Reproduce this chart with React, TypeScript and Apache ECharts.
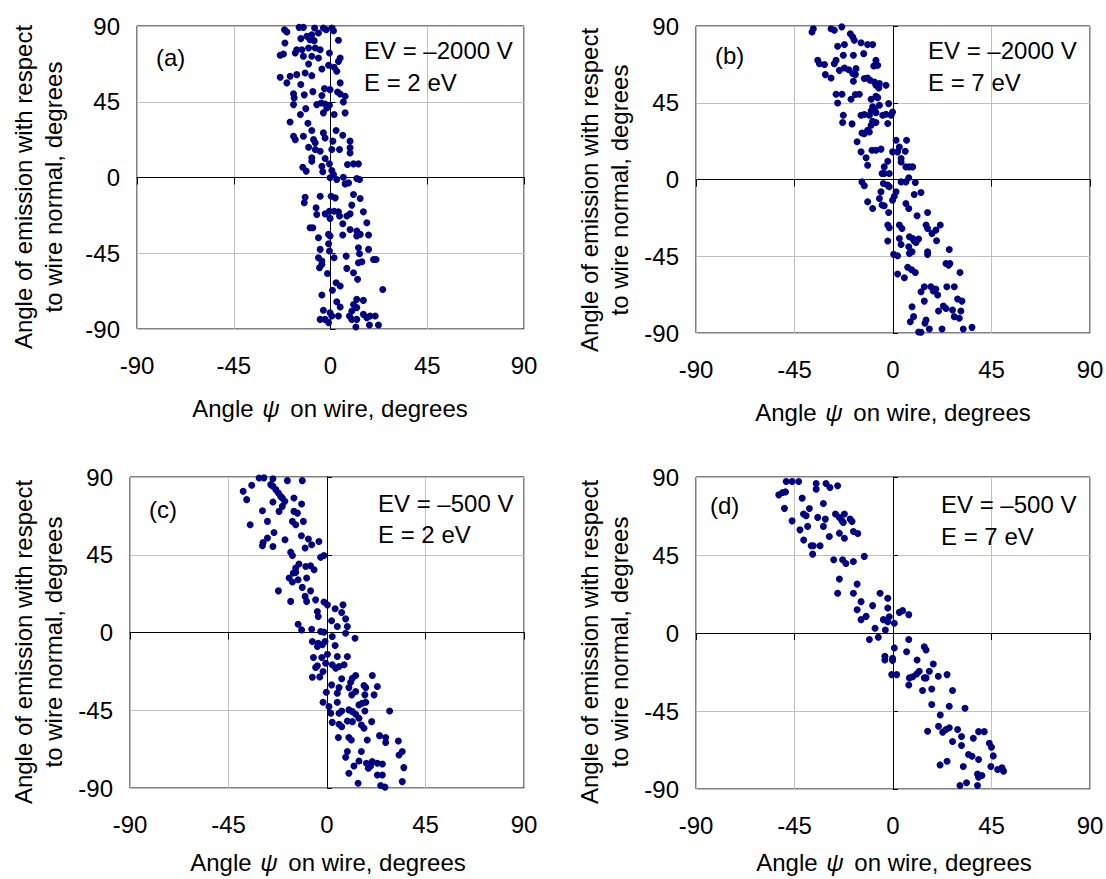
import React, { useEffect, useRef } from "react";
import * as echarts from "echarts";

// ---------- data ----------
const tickMin = -90;
const tickMax = 90;
const tickStep = 45;

const panelLabels = ["(a)", "(b)", "(c)", "(d)"];
const fieldLines = ["EV = \u20132000 V", "EV = \u20132000 V", "EV = \u2013500 V", "EV = \u2013500 V"];
const energyLines = ["E = 2 eV", "E = 7 eV", "E = 2 eV", "E = 7 eV"];
const yTitleLines = ["Angle of emission with respect", "to wire normal, degrees"];
const xTitleParts = ["Angle ", "\u03C8", " on wire, degrees"];

// [psi on wire, emission angle] in degrees
const pointsA: [number, number][] = [
  [-21.4, 87.8], [-20.3, 86.4], [-14.6, 89.2], [-12.6, 89.2], [-7.4, 88.8], [-3.3, 88.8], [-2.0, 87.8], [0.6, 88.8],
  [1.4, 87.2], [-5.6, 85.8], [-8.7, 84.8], [-13.8, 82.5], [-11.0, 83.9], [-9.5, 81.9], [-7.6, 81.3], [3.7, 81.5],
  [-21.2, 79.9], [-15.7, 75.9], [-16.4, 74.0], [-13.3, 75.9], [-10.2, 76.9], [-7.1, 76.9], [-4.8, 75.9], [-0.5, 74.0],
  [-23.4, 72.6], [-21.9, 73.4], [-12.6, 72.0], [-8.7, 72.0], [-5.6, 71.0], [4.5, 71.0], [3.7, 69.0], [-10.2, 67.4],
  [-0.9, 66.7], [-4.0, 64.5], [1.7, 65.5], [2.9, 63.1], [-23.4, 59.5], [-20.3, 56.2], [-18.8, 60.1], [-15.7, 61.1],
  [-13.8, 55.2], [-11.8, 62.1], [-8.7, 60.5], [4.5, 56.2], [-17.2, 49.8], [-16.9, 47.3], [-17.2, 43.3], [-12.2, 49.1],
  [-8.2, 51.0], [-4.0, 48.7], [-2.8, 52.8], [-0.2, 52.2], [3.3, 50.8], [4.5, 49.6], [6.8, 48.3], [6.0, 44.9],
  [-6.4, 43.3], [-4.3, 44.3], [-2.5, 43.7], [-0.5, 42.9], [-1.7, 41.3], [-11.5, 40.9], [-14.0, 37.4], [-3.3, 38.4],
  [1.7, 37.4], [6.8, 38.4], [-18.8, 33.0], [-10.5, 32.2], [-8.7, 27.9], [-3.3, 26.5], [2.6, 27.9], [5.7, 25.1],
  [9.1, 21.6], [-17.2, 24.5], [-16.4, 22.5], [-12.6, 24.5], [-7.9, 22.5], [-7.1, 20.6], [-2.5, 23.5], [1.1, 21.6],
  [-10.2, 18.0], [-7.1, 16.6], [-4.8, 15.6], [0.6, 16.6], [4.2, 16.6], [9.1, 17.6], [9.1, 14.6], [-8.7, 11.7],
  [-8.7, 9.7], [-2.5, 11.3], [-0.5, 8.1], [7.9, 7.7], [10.7, 8.1], [13.0, 8.1], [-12.9, 6.1], [-11.3, 3.8],
  [-4.0, 6.7], [-3.6, 3.4], [0.6, 4.2], [1.4, 1.8], [-0.2, -0.2], [2.9, -1.2], [6.0, 0.2], [6.8, -3.8],
  [8.4, -3.2], [12.2, -0.6], [13.5, -1.2], [-11.8, -11.7], [-12.2, -15.0], [-4.8, -11.1], [0.3, -11.1], [2.2, -12.1],
  [10.7, -10.1], [13.8, -12.5], [9.9, -16.4], [-6.7, -18.0], [-6.4, -22.0], [-2.5, -21.6], [-0.5, -20.0], [1.7, -20.0],
  [3.7, -20.4], [4.2, -22.9], [-0.2, -24.3], [7.6, -22.9], [9.1, -21.6], [15.3, -20.4], [16.9, -26.9], [5.7, -27.5],
  [-9.5, -29.9], [-8.2, -29.9], [9.1, -30.9], [12.2, -31.8], [-0.9, -33.8], [-0.2, -34.8], [-5.6, -35.8], [5.7, -34.2],
  [12.2, -34.8], [13.8, -33.8], [17.7, -34.2], [-0.9, -39.4], [-4.8, -42.7], [-0.5, -43.7], [1.7, -47.7], [-5.6, -47.7],
  [-4.0, -49.6], [-4.0, -51.6], [-5.1, -53.6], [7.3, -46.7], [13.0, -41.7], [13.5, -45.3], [17.7, -42.7], [13.0, -50.6],
  [14.6, -50.0], [20.0, -48.7], [21.2, -48.7], [7.6, -54.0], [10.7, -56.6], [-1.4, -57.0], [12.6, -60.5], [2.6, -62.5],
  [4.5, -64.5], [0.9, -67.0], [24.3, -66.5], [-4.0, -69.8], [2.9, -73.8], [4.5, -76.9], [10.7, -75.4], [12.2, -72.4],
  [15.3, -73.0], [12.2, -77.3], [9.9, -79.3], [-3.3, -78.9], [-0.2, -80.3], [0.6, -82.3], [-4.8, -84.3], [-2.5, -84.3],
  [-0.9, -86.2], [3.7, -82.3], [8.8, -82.3], [9.9, -84.3], [12.2, -84.3], [15.3, -81.3], [16.9, -83.3], [18.4, -82.3],
  [20.8, -82.3], [18.1, -87.6], [22.3, -87.6], [11.8, -88.8],
];

const pointsB: [number, number][] = [
  [-37.0, 86.5], [-36.4, 88.4], [-28.3, 88.4], [-26.8, 87.5], [-23.4, 89.5], [-19.5, 85.5], [-18.4, 83.6], [-17.7, 81.6],
  [-14.6, 80.2], [-11.6, 79.1], [-9.3, 79.1], [-22.2, 79.1], [-25.3, 78.1], [-22.7, 72.8], [-26.0, 69.9], [-26.8, 67.9],
  [-34.4, 69.9], [-33.6, 67.9], [-31.3, 67.4], [-18.1, 72.8], [-13.4, 73.8], [-7.8, 69.9], [-8.1, 67.0], [-8.8, 66.6],
  [-7.0, 67.0], [-24.5, 64.0], [-22.2, 65.4], [-20.2, 64.4], [-18.4, 62.1], [-16.9, 65.0], [-17.2, 61.5], [-30.9, 61.5],
  [-28.3, 59.5], [-18.1, 57.6], [-13.1, 59.2], [-11.6, 59.5], [-10.5, 58.2], [-8.5, 57.2], [-7.8, 55.3], [-6.2, 56.2],
  [-3.2, 55.3], [-6.5, 53.7], [-26.0, 50.0], [-23.3, 50.0], [-25.3, 44.9], [-19.2, 47.1], [-17.2, 49.8], [-15.4, 50.0],
  [-10.0, 47.1], [-7.8, 48.8], [-7.0, 48.0], [-6.2, 43.5], [-9.3, 42.6], [-8.5, 41.6], [-10.0, 40.2], [-2.0, 44.5],
  [-0.2, 39.6], [-0.9, 37.7], [-22.7, 37.7], [-14.6, 37.7], [-13.1, 38.1], [-10.8, 37.7], [-7.8, 39.2], [-4.7, 37.7],
  [-3.2, 38.3], [-9.3, 34.2], [-7.8, 33.4], [-2.4, 32.8], [-23.0, 33.4], [-18.7, 32.6], [-10.0, 31.8], [-11.6, 28.9],
  [-14.2, 27.3], [-13.1, 26.9], [-10.8, 27.9], [-16.4, 22.1], [1.4, 23.0], [6.2, 23.0], [2.9, 19.1], [-0.2, 16.2],
  [2.1, 16.2], [5.6, 16.6], [-14.6, 16.2], [-9.6, 17.2], [-7.8, 17.2], [-5.5, 17.8], [-12.3, 12.7], [-11.6, 8.4],
  [-2.4, 10.7], [-4.0, 7.4], [3.7, 12.3], [3.7, 10.3], [5.9, 7.4], [7.5, 7.4], [9.0, 7.4], [-5.0, 3.5],
  [-4.0, 3.5], [-1.7, 3.5], [7.2, 1.0], [5.9, -1.4], [3.7, -1.4], [10.2, -1.8], [-14.2, -1.4], [-13.1, -3.7],
  [-4.4, -2.3], [-2.4, -3.3], [-1.7, -4.3], [1.4, -7.2], [0.6, -9.8], [-5.5, -7.2], [-6.2, -11.1], [-0.2, -12.1],
  [-5.0, -15.0], [-4.0, -15.4], [12.8, -7.6], [9.7, -8.8], [-11.6, -13.1], [-9.3, -17.0], [5.9, -14.1], [7.2, -17.0],
  [-2.0, -19.3], [11.0, -21.3], [15.8, -19.3], [-2.4, -26.7], [-1.7, -28.3], [2.9, -26.7], [4.1, -28.7], [15.1, -26.7],
  [15.8, -28.7], [21.6, -26.7], [19.6, -29.7], [17.8, -31.6], [2.9, -34.6], [7.5, -33.6], [9.0, -34.6], [11.7, -34.9],
  [9.7, -36.1], [10.5, -36.9], [3.7, -38.1], [7.2, -39.4], [19.9, -35.9], [-2.4, -36.1], [0.3, -43.9], [2.1, -44.7],
  [7.5, -43.3], [8.7, -42.4], [15.8, -42.4], [15.8, -43.9], [25.7, -41.0], [24.2, -49.2], [26.0, -49.2], [25.4, -50.2],
  [6.7, -51.5], [8.5, -52.9], [10.2, -54.5], [30.6, -54.5], [2.1, -55.4], [5.2, -57.6], [14.3, -62.9], [17.3, -62.9],
  [19.6, -64.2], [12.8, -65.8], [18.4, -65.4], [20.4, -67.7], [24.6, -62.9], [28.0, -62.9], [14.3, -71.3], [8.7, -74.6],
  [29.5, -70.1], [31.5, -71.3], [23.0, -74.2], [24.2, -75.6], [27.2, -76.5], [31.0, -77.1], [20.8, -77.1], [28.0, -80.4],
  [30.3, -81.4], [9.4, -80.4], [7.9, -83.4], [15.1, -82.4], [14.6, -84.3], [16.6, -87.7], [22.4, -87.7], [32.1, -87.7],
  [36.1, -86.7], [11.7, -89.4], [12.8, -89.6],
];

const pointsC: [number, number][] = [
  [-38.3, 81.7], [-36.7, 76.9], [-35.1, 62.4], [-34.4, 85.2], [-31.0, 89.4], [-28.8, 89.5], [-24.7, 89.0], [-25.7, 85.6],
  [-24.7, 84.6], [-23.4, 82.7], [-22.2, 80.7], [-21.2, 78.8], [-20.4, 77.8], [-19.3, 75.9], [-20.4, 73.0], [-18.1, 87.9],
  [-15.1, 77.8], [-11.3, 87.9], [-24.7, 75.5], [-21.9, 70.1], [-29.5, 70.5], [-27.2, 64.3], [-15.8, 64.3], [-14.3, 62.4],
  [-13.5, 69.1], [-15.1, 70.1], [-11.6, 74.4], [-10.8, 64.3], [-24.2, 57.9], [-27.2, 54.7], [-29.2, 52.1], [-29.5, 50.2],
  [-24.7, 49.8], [-19.2, 53.7], [-11.7, 56.0], [-8.5, 54.1], [-7.0, 50.8], [-3.7, 52.7], [-10.0, 48.9], [-16.6, 46.5],
  [-15.8, 44.6], [-2.9, 43.5], [-1.4, 44.6], [-12.8, 39.6], [-14.3, 37.3], [-14.3, 34.8], [-15.4, 34.4], [-9.7, 38.2],
  [-7.5, 38.6], [-5.9, 36.3], [-17.3, 31.5], [-15.8, 29.2], [-13.2, 30.5], [-9.3, 31.5], [-11.3, 26.1], [-7.5, 24.1],
  [-22.2, 24.1], [-10.0, 20.9], [-9.3, 18.0], [-16.6, 18.0], [-5.2, 18.9], [-1.4, 17.6], [0.2, 16.0], [-4.4, 12.2],
  [-4.0, 9.3], [3.7, 13.7], [7.3, 16.0], [6.7, 11.6], [2.1, 6.8], [4.7, 3.5], [8.5, 7.9], [9.3, 3.5],
  [-13.2, 4.8], [-11.6, 1.5], [-7.0, 1.9], [-2.9, 0.6], [-1.4, 0.2], [2.4, -2.3], [8.5, -0.4], [12.8, -3.3],
  [-6.7, -5.2], [-4.0, -6.2], [-2.1, -7.1], [-0.9, -5.2], [-4.4, -8.1], [3.7, -7.5], [-6.2, -14.5], [-2.4, -14.5],
  [0.2, -12.6], [4.7, -13.9], [9.3, -13.9], [-4.4, -19.3], [-5.2, -20.3], [-0.6, -17.8], [2.4, -18.7], [4.0, -20.7],
  [5.5, -19.7], [7.8, -18.7], [-1.8, -22.6], [-3.3, -25.7], [-6.7, -25.9], [11.6, -26.5], [13.1, -24.9], [20.7, -24.9],
  [6.7, -26.8], [10.8, -28.8], [16.9, -30.7], [23.0, -31.3], [17.7, -31.9], [2.1, -30.3], [5.5, -31.9], [10.0, -31.9],
  [11.3, -36.1], [13.1, -34.2], [21.5, -36.1], [-0.3, -34.6], [4.7, -35.1], [17.3, -36.1], [-1.8, -40.4], [0.9, -42.9],
  [4.7, -40.4], [14.6, -41.9], [17.7, -40.4], [16.1, -40.9], [10.0, -44.8], [11.6, -45.8], [17.3, -45.4], [28.6, -45.4],
  [1.7, -46.7], [5.5, -46.7], [6.7, -45.4], [13.1, -47.3], [14.6, -49.6], [9.3, -51.2], [11.6, -51.6], [2.4, -52.0],
  [5.5, -53.1], [6.7, -54.5], [15.7, -53.5], [16.9, -55.4], [20.4, -51.6], [24.0, -59.7], [26.8, -60.8], [5.2, -60.8],
  [10.0, -60.8], [11.1, -62.2], [18.4, -62.2], [26.8, -63.7], [32.6, -62.8], [9.3, -68.9], [8.5, -72.2], [15.7, -68.9],
  [34.4, -68.9], [32.9, -70.9], [14.6, -74.4], [18.0, -75.7], [20.7, -74.7], [23.0, -75.7], [25.3, -76.1], [19.9, -77.3],
  [18.9, -78.6], [12.3, -77.3], [10.0, -81.5], [35.1, -78.2], [23.0, -82.5], [25.3, -82.5], [14.2, -87.3], [24.5, -88.6],
  [26.5, -89.5], [34.4, -86.3],
];

const pointsD: [number, number][] = [
  [-52.2, 79.7], [-50.4, 81.1], [-49.1, 81.4], [-49.6, 71.9], [-48.8, 87.4], [-46.1, 87.4], [-43.1, 87.4], [-35.1, 86.2],
  [-35.1, 83.0], [-30.6, 86.2], [-28.8, 83.9], [-25.3, 84.9], [-41.5, 77.8], [-31.8, 74.7], [-38.2, 71.8], [-40.9, 68.6],
  [-39.7, 67.6], [-34.4, 66.7], [-30.9, 65.7], [-26.3, 68.6], [-22.2, 68.6], [-24.5, 66.7], [-23.3, 64.7], [-22.7, 63.8],
  [-19.6, 65.7], [-18.7, 64.3], [-46.1, 64.7], [-42.5, 59.5], [-39.0, 61.5], [-31.8, 61.5], [-29.1, 55.7], [-24.5, 57.6],
  [-22.2, 54.7], [-18.1, 58.6], [-16.1, 57.4], [-40.8, 53.6], [-37.4, 50.3], [-36.4, 50.3], [-33.3, 50.3], [-36.7, 45.5],
  [-27.1, 42.3], [-23.0, 42.3], [-21.5, 40.1], [-18.1, 41.3], [-13.1, 44.2], [-24.5, 31.1], [-16.4, 28.2], [-25.3, 22.9],
  [-18.1, 22.9], [-14.6, 18.1], [-5.9, 22.9], [-2.4, 20.0], [-9.3, 15.8], [-2.4, 14.4], [-16.4, 13.4], [-12.3, 9.6],
  [-14.6, 7.7], [-4.4, 7.7], [-1.7, 9.4], [-2.4, 6.5], [2.9, 11.9], [4.4, 12.9], [7.2, 10.6], [0.6, 5.6],
  [-8.2, 2.7], [-3.5, 1.7], [-10.8, -3.8], [-6.7, -2.5], [7.2, -3.8], [0.6, -8.6], [14.3, -7.9], [15.1, -9.8],
  [6.2, -10.8], [-3.7, -13.4], [-3.7, -15.6], [-0.2, -14.6], [-0.2, -15.9], [11.0, -15.6], [18.4, -17.9], [16.6, -22.1],
  [12.0, -22.1], [10.8, -23.6], [7.5, -25.9], [9.0, -25.2], [-0.6, -24.0], [1.7, -24.0], [14.3, -25.9], [15.1, -25.9],
  [20.7, -25.0], [24.7, -24.0], [7.2, -30.0], [13.5, -33.2], [17.7, -32.3], [27.2, -33.2], [17.7, -41.3], [25.7, -42.3],
  [32.9, -43.4], [21.6, -47.3], [15.8, -56.7], [20.8, -53.8], [22.7, -57.2], [24.2, -55.7], [25.7, -54.7], [29.5, -55.7],
  [27.2, -62.6], [31.3, -59.7], [31.3, -64.9], [36.7, -60.7], [39.1, -56.9], [41.7, -56.9], [44.0, -63.6], [45.0, -65.9],
  [45.8, -70.9], [34.5, -70.1], [36.1, -71.1], [39.1, -73.0], [21.5, -76.1], [24.7, -74.0], [32.1, -77.0], [44.7, -77.0],
  [47.8, -78.8], [49.8, -77.8], [50.5, -79.7], [38.6, -81.3], [40.6, -82.2], [39.1, -83.2], [33.6, -86.4], [30.6, -88.0],
  [38.6, -88.0],
];

const panelPoints = [pointsA, pointsB, pointsC, pointsD];

// ---------- layout (pixels) ----------
const gridBoxes = [
  { left: 137, top: 26, width: 387, height: 303 },
  { left: 696, top: 26, width: 394, height: 307 },
  { left: 130, top: 477, width: 394, height: 311 },
  { left: 696, top: 477, width: 394, height: 312 },
];
const labelPos = [[156, 57], [715, 55], [149, 509], [710, 505]];
const fieldPos = [[364, 50], [928, 50], [378, 503], [941, 504]];
const energyPos = [[364, 82], [928, 82], [378, 534], [941, 536]];
const yTitlePos = [[38, 187], [604, 190], [38, 642], [604, 642]];
const xTitlePos = [[330, 408], [893, 412], [328, 862], [894, 862]];

const FONT = "'Liberation Sans', Arial, Helvetica, sans-serif";
const FS = 24;
const DOT = "#000080";

export default function App() {
  const ref = useRef<HTMLDivElement>(null);

  useEffect(() => {
    if (!ref.current) return;
    const chart = echarts.init(ref.current, undefined, { renderer: "svg" });

    const grid = gridBoxes.map((g) => ({
      ...g,
      show: true,
      borderColor: "#000",
      borderWidth: 1,
      backgroundColor: "transparent",
      containLabel: false,
      outerBoundsMode: "none",
    }));

    const splitColors = ["#c0c0c0", "#c0c0c0", "#000000", "#c0c0c0", "#c0c0c0"];

    const xAxis = gridBoxes.map((_, i) => ({
      type: "value",
      gridIndex: i,
      min: tickMin,
      max: tickMax,
      interval: tickStep,
      axisLine: { show: true, lineStyle: { color: "#000", width: 1 } },
      axisTick: { show: true, inside: false, length: 7, lineStyle: { color: "#000" } },
      axisLabel: { color: "#000", fontSize: FS, fontFamily: FONT, margin: 24 },
      splitLine: { show: true, lineStyle: { color: splitColors, width: 1 } },
    }));

    const yAxis = gridBoxes.map((_, i) => ({
      type: "value",
      gridIndex: i,
      min: tickMin,
      max: tickMax,
      interval: tickStep,
      axisLine: { show: true, lineStyle: { color: "#000", width: 1 } },
      axisTick: { show: true, inside: true, length: 5, lineStyle: { color: "#000" } },
      axisLabel: { color: "#000", fontSize: FS, fontFamily: FONT, margin: 17 },
      splitLine: { show: true, lineStyle: { color: splitColors, width: 1 } },
    }));

    const series = panelPoints.map((pts, i) => ({
      type: "scatter",
      xAxisIndex: i,
      yAxisIndex: i,
      data: pts,
      symbol: "circle",
      symbolSize: 7,
      itemStyle: { color: DOT, opacity: 1 },
      silent: true,
      z: 5,
    }));

    const textStyle = (text: string, align: string) => ({
      text,
      fill: "#000",
      font: `${FS}px ${FONT}`,
      textAlign: align,
      textVerticalAlign: "middle",
    });

    const graphics: any[] = [];
    for (let i = 0; i < 4; i++) {
      graphics.push({ type: "text", x: labelPos[i][0], y: labelPos[i][1], style: textStyle(panelLabels[i], "left"), z: 10 });
      graphics.push({ type: "text", x: fieldPos[i][0], y: fieldPos[i][1], style: textStyle(fieldLines[i], "left"), z: 10 });
      graphics.push({ type: "text", x: energyPos[i][0], y: energyPos[i][1], style: textStyle(energyLines[i], "left"), z: 10 });
      graphics.push({
        type: "text",
        x: yTitlePos[i][0],
        y: yTitlePos[i][1],
        rotation: Math.PI / 2,
        style: {
          text: yTitleLines.join("\n"),
          fill: "#000",
          font: `${FS}px ${FONT}`,
          lineHeight: 30,
          textAlign: "center",
          textVerticalAlign: "middle",
        },
        z: 10,
      });
      graphics.push({
        type: "text",
        x: xTitlePos[i][0],
        y: xTitlePos[i][1],
        style: {
          text: `{n|${xTitleParts[0]}}{p|${xTitleParts[1]}}{n|${xTitleParts[2]}}`,
          textAlign: "center",
          textVerticalAlign: "middle",
          rich: {
            n: { fontSize: FS, fontFamily: FONT, fill: "#000", color: "#000" },
            p: { fontSize: FS, fontFamily: FONT, fontStyle: "italic", fill: "#000", color: "#000", padding: [0, 4, 0, 2] },
          },
        },
        z: 10,
      });
    }

    chart.setOption({
      animation: false,
      backgroundColor: "#fff",
      grid,
      xAxis,
      yAxis,
      series,
      graphic: { elements: graphics },
    });

    return () => chart.dispose();
  }, []);

  return (
    <div
      ref={ref}
      style={{ position: "absolute", left: 0, top: 0, width: 1106, height: 879 }}
    />
  );
}
